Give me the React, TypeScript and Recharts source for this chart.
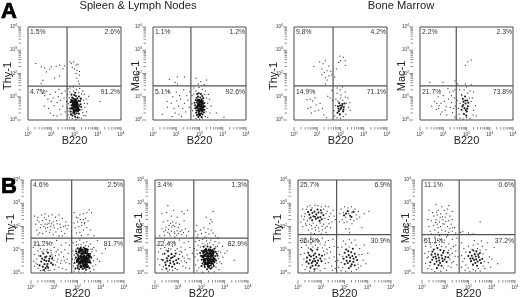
import React from "react";
import { ScatterChart, Scatter, XAxis, YAxis, ReferenceLine, ReferenceArea } from "recharts";

// flow cytometry dot plots, values are decades on the log axis (0 = 10^0, 4 = 10^4)
type Pts = number[][];

const a1Sparse: Pts = [[.33,2.43],[.57,2.29],[.71,2.24],[.93,2.19],[1,2.29],[1.21,2.31],[1.36,2.36],[1.57,2.33],[.79,2.07],[1.14,1.81],[1.36,1.89],[.64,1.71],[.57,1.57],[1.5,2.2],
  [1.86,2.43],[1.96,2.5],[2.07,2.36],[2.14,2.4],[1.9,2.26],[2,2.2],[2.1,2.14],[2.21,2.09],[2.06,2],[2.2,1.93],[2.1,1.8],[2.16,1.67],[2.2,1.56],[1.8,2.5],
  [.55,1.3],[.62,1.15],[.72,1.05],[.8,1.25],[.85,.9],[.95,1.1],[1,.8],[1.08,.95],[1.12,.62],[1.18,1.2],[1.25,.75],[1.3,1],[1.36,.45],[1.4,.85],[1.45,1.15],[1.5,.6],[1.55,.95],[1.6,.35],[.95,.3],[1.1,.2],[.88,.5],[1.25,.18],[1.42,.25],[.7,.6],[1.33,1.32],[1.6,1.25],
  [1.72,1.35],[1.82,1.38],[1.95,1.42],[2.08,1.3],[2.22,1.36],[2.35,1.25],[2.42,1.1],[2.5,.9],[2.55,.7],[2.45,.55],[2.52,.35],[2.4,.2],[2.3,1.12],[2.18,1.18],[1.7,1.1],[1.66,.8],[1.7,.5],[1.72,.22],[1.78,.1],[1.9,.06],[2.05,.04],[2.2,.1],[2.3,.08],[1.8,1.2],[1.95,1.25],[2.38,.85],[2.32,.45],[2.42,.72],[2.28,.95],[2.35,.32],[3.1,.8],[2.6,1.02],[1.78,.95],[1.75,.7],[1.76,.38],[2.48,.18]];
const a1Dense: Pts = [[1.83,.77],[1.94,.92],[2.06,1.03],[2.17,.83],[2.26,.68],[1.89,.53],[2.01,.66],[2.11,.58],[2.22,.43],[1.84,.36],[1.97,.41],[2.09,.29],[2.19,.27],[1.91,.19],[2.03,.14],[2.13,.11],[1.99,.81],[2.12,.76],[1.87,1.09],[2.03,1.17],[2.19,1.01],[2.29,.56],
  [1.87,.63],[1.93,.71],[2.04,.49],[2.14,.67],[1.96,.58],[2.07,.83],[1.86,.87],[2.16,.51],[2.24,.81],[1.95,.3],[2.02,.74],[2.08,.39],[1.81,.49],[2.15,.37],[2.06,.61],[1.9,.97],[1.99,1.07],[2.12,.93],[2.21,.61],[2.01,.24],[2.11,.46],[1.94,.47],[1.85,.24],[2.27,.91]];
const a1Core: Pts = [[1.95,.64],[2.03,.57],[2.1,.68],[2,.72],[1.92,.5],[2.05,.43],[2.13,.55],[1.98,.35],[2.07,.77],[2.02,.88],[1.9,.8],[2.16,.45]];

const a2Sparse: Pts = [[.7,1.75],[.95,1.62],[1.05,1.85],[1.35,1.85],[1.05,1.55],[1.85,1.8],[2.05,1.65],[2.3,1.72],[1.95,1.55],[2.2,1.52],
  [.4,.25],[.6,.8],[.62,.55],[.68,1.2],[.78,.72],[.85,1],[.9,.5],[.95,.3],[1,1.2],[1.02,.82],[1.1,.6],[1.14,1.05],[1.18,.9],[1.22,.15],[1.28,.5],[1.32,1.3],[1.35,.72],[1.4,.35],[1.45,1.05],[1.5,.85],[1.55,.55],[1.58,1.22],[.82,.15],[1.12,.25],
  [1.75,1.38],[1.85,1.25],[1.98,1.4],[2.12,1.32],[2.25,1.25],[2.38,1.1],[2.42,.9],[2.5,.6],[2.45,.3],[2.35,.12],[1.68,1.05],[1.68,.7],[1.7,.4],[1.74,.18],[1.85,.06],[2,.04],[2.12,.08],[2.25,.15],[2.3,.95],[2.35,.72],[1.76,1.12],[2.22,1.1],[1.8,.5],[3.05,.12],[2.72,.3],[2.32,.5],[2.28,.35]];
const a2Dense: Pts = [[1.84,.86],[1.94,1.01],[2.06,1.12],[2.16,.94],[2.21,.73],[1.81,.63],[1.94,.71],[2.04,.76],[2.13,.54],[1.87,.41],[2.01,.49],[2.11,.36],[2.21,.44],[1.89,.21],[2.02,.19],[2.09,.13],[1.97,1.15],[2.09,.89],
  [1.89,.76],[1.99,.59],[2.07,.66],[2.17,.63],[1.93,.49],[2.04,.41],[1.83,.51],[2.14,.81],[1.96,.31],[2.06,.28],[1.98,.87],[2.03,.97],[1.88,.96],[2.12,1.03],[2.19,.33],[1.85,.31],[2.08,.52],[1.92,.62],[2.01,.68],[2.23,.58],[2.13,.24],[1.79,.74],[1.95,.13],[2.02,.82],[1.9,1.12]];
const a2Core: Pts = [[1.96,.66],[2.05,.6],[2.12,.72],[2.01,.78],[1.9,.55],[2.06,.45],[2.14,.45],[1.97,.4],[2.08,.82],[1.94,.85],[1.99,.25],[2.15,.58]];

const a3Sparse: Pts = [[.85,2.3],[1.1,2.5],[1.25,2.42],[1.35,2.55],[1.5,2.32],[1.2,2.2],[1.3,2.05],[1.42,2.12],[1.5,1.9],[1.35,1.82],[1.58,2.1],[1.42,1.72],[1.62,1.95],[1.35,1.55],[1.2,1.95],
  [1.98,2.75],[2.12,2.7],[2,2.55],[1.92,2.48],[2.2,2.55],[2.2,2.35],[1.82,2.2],[1.75,1.85],
  [.55,.88],[.7,.9],[.8,.82],[.9,.95],[.72,.55],[.6,.5],[.75,.3],[.95,.65],[1.05,.42],[1.12,.72],[1.22,.5],[1.28,.22],[1.4,.1],[.9,.38],[1.45,1.02],[1.55,.95],[1.62,1.28],[1.65,.85],
  [1.85,1.38],[1.98,1.3],[2.08,1.42],[2.2,1.2],[1.85,1.15],[2.02,1.08],[2.2,.98],[2.32,.95],[2.4,.75],[2.35,.55],[2.42,.42],[2.25,.72],[1.8,.9],[1.78,.62],[1.72,.4],[1.75,.18],[1.85,.1],[2,.08],[2.12,.15],[2.22,.25],[1.88,.82],[2.1,.85],[2,.95]];
const a3Dense: Pts = [[1.94,.73],[2.06,.61],[2.14,.56],[1.91,.49],[1.99,.46],[2.11,.37],[1.87,.31],[1.97,.24],[2.17,.71],[2.03,.52],[1.93,.38],[2.08,.69],[1.98,.62],[2.13,.45],[1.89,.59]];

const a4Sparse: Pts = [[.42,1.62],[.98,1.62],[1.5,1.68],[2.05,2.5],[2.2,2.58],[1.95,2.35],[1.62,1.55],[1.95,1.55],[2.2,1.52],
  [.5,.6],[.62,.8],[.7,.45],[.78,1],[.82,.62],[.9,.72],[.95,.35],[1,1.05],[1.05,.8],[1.12,.58],[1.15,.22],[1.22,.9],[1.28,1.2],[1.3,.55],[1.35,.75],[1.4,.32],[1.42,1.25],[1.48,.95],[1.5,.12],[1.52,.6],[1.2,1.35],[1.35,1.05],[.8,.5],[.88,.25],[1.08,.42],[1.5,1.3],[1.45,.5],[.72,.72],
  [1.7,1.3],[1.78,1.1],[1.9,1.3],[2,1.42],[2.15,1.25],[2.3,1.2],[1.6,.85],[1.65,.5],[1.68,.25],[1.72,.08],[1.85,.05],[2,.1],[2.15,.06],[2.3,.42],[2.38,.62],[2.42,.18],[2.2,.8],[2.25,.95],[1.8,1.05],[2.05,1.15],[2.12,.95],[1.72,.72],[2.28,.22]];
const a4Dense: Pts = [[1.84,.91],[1.94,1.01],[2.03,.84],[1.86,.64],[1.96,.71],[2.06,.59],[1.79,.44],[1.91,.51],[2.01,.37],[1.89,.26],[1.99,.19],[1.87,.79],[1.97,.43],[2.08,.74],[1.82,.58],[1.95,.84],[2.03,.49]];

const b1Sparse: Pts = [[.15,2.45],[.3,2.4],[.45,2.5],[.6,2.55],[.75,2.45],[.9,2.5],[1.05,2.4],[1.2,2.5],[1.35,2.35],[1.5,2.2],[.2,2.1],[.35,2.2],[.5,2.25],[.65,2.3],[.8,2.25],[.95,2.2],[1.1,2.25],[1.25,2.1],[1.4,2],[1.55,1.9],[.25,1.85],[.4,1.95],[.55,2],[.7,2.1],[.85,2],[1,1.95],[1.15,1.9],[1.3,1.8],[1.45,1.7],[1.6,2.05],[.3,1.65],[.5,1.7],[.65,1.8],[.8,1.75],[.95,1.65],[1.2,1.6],[1.35,1.6],[.6,2.1],[.72,1.95],[.88,2.12],
  [1.85,2.6],[1.95,2.4],[2.1,2.5],[2.25,2.55],[2.4,2.6],[2.5,2.72],[2.6,2.6],[1.85,2.15],[2,2.2],[2.12,2.3],[2.25,2.3],[2.35,2.35],[2.45,2.25],[1.9,1.95],[2.05,2],[2.18,2.05],[2.3,2.12],[2.4,1.95],[2.55,1.85],[1.95,1.72],[2.1,1.75],[2.25,1.85],[2.45,1.65],[2.7,1.6],[2.32,2.18],
  [.1,1.1],[.2,1.3],[.35,1.2],[.5,1.35],[.7,1.25],[.9,1.3],[1.1,1.4],[1.3,1.2],[1.5,1.3],[1.65,1.2],[.15,.8],[.3,.95],[.4,1.05],[.55,1],[.7,1.02],[.85,.98],[1,1.1],[1.15,1],[1.3,.9],[1.45,1],[1.6,.85],[.12,.5],[.25,.6],[.15,.3],[.3,.2],[1.05,.75],[1.15,.6],[1.2,.78],[1.3,.55],[1.4,.7],[1.5,.45],[1.55,.6],[1.65,.4],[1.05,.35],[1.2,.25],[1.35,.2],[1.5,.15],[.9,.78],[.98,.55],[1,.15],[.82,.12],[.6,.08],[.4,.1],
  [1.8,1.3],[1.95,1.35],[2.1,1.42],[2.25,1.3],[2.4,1.35],[2.55,1.25],[2.7,1.1],[2.8,.95],[3.05,.85],[2.85,1.4],[1.8,.95],[1.78,.6],[1.82,.3],[1.85,.08],[2.05,.05],[2.3,.04],[2.55,.06],[2.7,.15],[2.78,.35],[2.85,.6],[2.95,.5],[2.72,.75],[2.65,1.02],[1.95,1.2],[2.15,1.22],[2.35,1.18],[3.2,1.05]];
const b1Cloud: Pts = [[.27,2.27],[.43,2.08],[.58,2.38],[.77,2.14],[.98,2.06],[1.13,2.12],[.37,1.73],[.62,1.93],[.83,1.86],[1.07,1.77],[1.27,1.97],[1.48,2.03],[.47,.92],[.33,.74],[.22,.43],[.68,.94],[.87,.87],[.93,.68],[1.08,.92],[1.12,.48],[.27,.37],[.48,.12],[.74,.11],[1.27,.42],[1.43,.53],[2.62,.92],[2.68,.53],[2.66,.3],[1.86,.77],[1.88,.56],[1.93,1.03],[2.03,1.22],[2.47,1.14],[2.58,1.03],[2.18,2.18],[2.03,2.37],[2.17,1.62]];
const b1Dense: Pts = [[.41,.73],[.53,.84],[.66,.71],[.79,.61],[.44,.49],[.57,.56],[.71,.39],[.86,.43],[.51,.27],[.63,.21],[.74,.23],[.73,.87],[.37,.33],[.94,.36],[.58,.38],[.66,.52],[.48,.62],[.61,.67],[.77,.51],[.69,.29],[.83,.72],[.56,.14],[.91,.62],
  [2.01,1.06],[2.14,1.09],[2.31,1.04],[2.44,1.01],[1.96,.84],[2.11,.91],[2.24,.87],[2.41,.86],[2.54,.83],[1.93,.66],[2.04,.71],[2.21,.69],[2.34,.67],[2.49,.64],[1.97,.47],[2.13,.53],[2.27,.51],[2.43,.47],[2.56,.44],[2.01,.31],[2.14,.33],[2.29,.31],[2.46,.29],[2.07,.16],[2.23,.17],[2.37,.14],[1.91,.19],[2.51,.21],[2.59,.66],[1.87,.43],
  [2.08,.98],[2.19,.97],[2.36,.94],[2.02,.77],[2.17,.81],[2.29,.76],[2.46,.74],[2.1,.62],[2.26,.61],[2.39,.58],[2.05,.39],[2.19,.44],[2.35,.41],[2.16,.24],[2.31,.22],[1.99,.57],[2.24,.37],[2.41,.38],[2.28,.93],[2.12,.73],[1.94,.93],[2.52,.55],[2.22,.55],[2.33,.48],[2.07,.48],[2.18,.62],[2.38,.73],[2.01,.22],[2.43,.95],[2.27,1.1]];
const b1Core: Pts = [[2.07,.9],[2.2,.83],[2.33,.87],[2.45,.8],[2.05,.62],[2.16,.7],[2.3,.66],[2.43,.6],[2.1,.44],[2.24,.46],[2.37,.5],[2.5,.48],[2.15,.28],[2.28,.3],[2.4,.27],[2.2,.98],[2.36,1.02],[2.12,1.02],[2.52,.72],[2,.52],[2.25,.7],[2.38,.66],[2.18,.54],[2.31,.58],[2.34,.36]];

const b2Sparse: Pts = [[.55,2.9],[.8,2.7],[1.15,2.65],[.3,2.55],[.5,2.6],[.7,2.45],[.95,2.4],[1.25,2.55],[1.4,2.7],[.35,2.2],[.55,2.25],[.75,2.2],[.9,2.15],[1.05,2.1],[1.25,2.25],[.6,2.05],[.72,1.98],[.85,2],[1,1.95],[1.15,1.85],[1.3,1.9],[.3,1.9],[.45,1.85],[.55,1.75],[.7,1.8],[.85,1.7],[1,1.7],[1.15,1.65],[1.35,1.6],[.4,1.62],[.65,1.6],[.85,1.55],[1.45,1.78],[.2,1.6],[.95,1.82],[.78,2.05],
  [2.5,2.65],[2.2,2.4],[2.35,2.12],[2.45,2.2],[1.8,2.05],[1.95,1.85],[2.1,1.95],[2.28,1.9],[2.42,1.85],[1.85,1.65],[2,1.7],[2.18,1.75],[2.32,1.68],[2.5,1.72],[2.6,1.6],[1.75,1.8],[2.4,2.3],[1.82,1.55],[2.15,1.55],[2.7,1.52],
  [.1,1.2],[.22,1.35],[.4,1.42],[.6,1.3],[.82,1.35],[1.05,1.42],[1.25,1.3],[1.45,1.35],[.15,.9],[.25,1.05],[.42,1.1],[.58,1.05],[.75,1.15],[.95,1.05],[1.12,1.12],[1.3,1],[1.5,1.1],[.12,.6],[.2,.35],[.3,.15],[1.05,.8],[1.15,.9],[1.25,.65],[1.38,.78],[1.5,.6],[1.6,.85],[1.05,.4],[1.2,.3],[1.35,.45],[1.48,.2],[.95,.15],[.75,.1],[.55,.08],
  [1.75,1.35],[1.9,1.4],[2.05,1.45],[2.22,1.38],[2.4,1.42],[2.58,1.35],[2.75,1.3],[2.9,1.15],[3.1,.95],[3.4,.55],[1.7,1.05],[1.72,.7],[1.75,.35],[1.8,.1],[2.05,.04],[2.3,.06],[2.55,.05],[2.75,.15],[2.85,.4],[2.92,.68],[3,.85],[2.82,.9],[2.68,1.15],[1.85,1.2],[2.05,1.28],[2.25,1.25],[2.5,1.22]];
const b2Cloud: Pts = [[.62,1.69],[.47,1.97],[.67,2.14],[.83,1.77],[.93,1.63],[1.08,1.79],[1.22,1.74],[.38,1.78],[.58,1.88],[.48,.98],[.32,.82],[.27,.58],[.36,.27],[.68,1.03],[.87,.97],[1.08,.93],[1.18,.72],[1.13,.52],[.62,.14],[.87,.2],[1.28,.52],[1.42,.62],[1.32,.22],[2.72,.62],[2.78,.48],[2.72,.94],[1.82,.82],[1.84,.55],[1.88,.22],[2.62,.25],[2.66,.42],[2.15,1.2],[2.35,1.3],[2.6,1.12],[1.95,1.12],[1.8,.98]];
const b2Dense: Pts = [[.41,.83],[.56,.94],[.71,.81],[.84,.73],[1.01,.61],[.34,.56],[.51,.63],[.64,.54],[.79,.49],[.96,.43],[.46,.34],[.61,.31],[.74,.27],[.89,.84],[.49,.19],[.58,.73],[.69,.64],[.44,.45],[.83,.38],[.66,.42],[.76,.68],[.53,.52],[.91,.55],
  [2.09,1.13],[2.26,1.14],[2.39,1.11],[2.56,1.04],[2.01,.96],[2.14,.99],[2.31,1.01],[2.44,.94],[2.61,.91],[1.97,.74],[2.13,.79],[2.27,.83],[2.41,.77],[2.59,.73],[2.01,.57],[2.16,.61],[2.29,.63],[2.46,.59],[2.63,.54],[2.04,.41],[2.21,.43],[2.34,.43],[2.51,.39],[2.14,.26],[2.31,.24],[2.44,.23],[2.69,.74],
  [2.07,.86],[2.21,.91],[2.36,.89],[2.52,.85],[2.07,.66],[2.22,.71],[2.36,.71],[2.51,.67],[2.1,.49],[2.27,.53],[2.41,.5],[2.56,.47],[2.27,.34],[2.4,.32],[2.19,1.04],[2.34,.8],[2.47,1],[2.18,.82],[2.12,.34],[1.94,.86],[2.24,.16],[2.38,.18],[2,.3],[2.32,.96],[2.16,.54],[2.53,.3],[2.66,.83]];
const b2Core: Pts = [[2.2,.97],[2.36,.98],[2.5,.92],[2.14,.75],[2.28,.72],[2.42,.72],[2.55,.6],[2.12,.58],[2.25,.6],[2.38,.6],[2.5,.52],[2.2,.4],[2.32,.5],[2.43,.42],[2.3,.3],[2.4,.85],[2.25,.85],[2.1,.92],[2.16,.45],[2.47,.78],[2.35,.55],[2.05,.72],[2.28,.42]];

const b3Sparse: Pts = [[.2,2.75],[.4,2.85],[.6,2.8],[.85,2.9],[1.1,2.75],[1.3,2.85],[.15,2.45],[.3,2.55],[.45,2.65],[1.25,2.65],[1.4,2.55],[1.55,2.45],[.12,2.2],[.25,2.3],[.4,2.25],[1.15,2.35],[1.3,2.3],[1.45,2.2],[.2,2],[.35,2.05],[.5,2.1],[.65,2.15],[.8,2.05],[.95,2.15],[1.1,2.1],[1.25,2],[1.4,1.95],[.45,1.85],[.6,1.9],[.75,1.85],[.9,1.8],[1.05,1.85],[1.2,1.75],[.7,1.7],[1,1.68],[.55,1.72],[1.5,2.7],[1.6,2.3],
  [1.85,2.75],[2,2.85],[2.15,2.8],[2.3,2.85],[2.45,2.75],[2.6,2.65],[1.8,2.55],[1.95,2.6],[2.05,2.4],[2.18,2.55],[2.32,2.6],[2.5,2.5],[2.65,2.4],[1.9,2.3],[2.1,2.2],[2.25,2.3],[2.4,2.25],[2.85,2.55],[2.05,1.9],[2.22,1.75],[2.2,1.9],[2.75,1.95],[3.05,2.65],[1.78,2.2],
  [.1,1.4],[.3,1.5],[.55,1.55],[.8,1.45],[1.05,1.5],[1.3,1.4],[1.5,1.45],[.15,1.1],[.35,1.2],[.55,1.25],[.75,1.2],[.95,1.25],[1.15,1.2],[1.35,1.1],[1.55,1.15],[.12,.8],[.25,.6],[.18,.35],[.3,.15],[1.1,.95],[1.25,.85],[1.4,.9],[1.55,.7],[1.15,.6],[1.3,.45],[1.45,.3],[1.6,.5],[1.15,.2],[.95,.1],[.7,.08],[.5,.06],[1.6,.2],
  [1.72,1.1],[1.78,.8],[1.72,.55],[1.75,.25],[1.85,.1],[2.05,.06],[2.3,.08],[2.5,.15],[2.7,.3],[2.8,.55],[2.75,.8],[2.65,1.05],[2.5,1.2],[2.3,1.3],[2.05,1.25],[1.88,1.12],[1.95,1.38],[2.2,1.45],[2.45,1.42],[3,.85],[2.92,.4],[2.85,1.2]];
const b3Cloud: Pts = [[.28,2.42],[.37,2.74],[.52,2.9],[.73,2.92],[1,2.85],[1.18,2.88],[1.2,2.55],[1.34,2.44],[.32,2.12],[.48,2.33],[.58,2.04],[.73,1.96],[.88,1.94],[1.03,2.02],[1.17,1.94],[1.33,2.12],[.28,1.32],[.45,1.38],[.67,1.37],[.92,1.38],[1.18,1.33],[.45,1.08],[.64,1.12],[.85,1.1],[1.05,1.08],[1.25,1.02],[.27,.85],[.33,.46],[.37,.27],[1.14,.78],[1.18,.42],[1.34,.65],[1.48,.12],[.82,.18],[1.92,.72],[1.86,.45],[1.92,.24],[2.58,.38],[2.62,.78],[2.6,.22],[2.2,1.12],[1.98,2.16],[2.32,2.12],[2.53,2.32]];
const b3Dense: Pts = [[.56,2.71],[.71,2.64],[.84,2.73],[1.01,2.59],[.49,2.51],[.66,2.44],[.79,2.52],[.96,2.41],[1.09,2.49],[.61,2.27],[.77,2.33],[.93,2.24],[.62,2.58],[.88,2.6],[.73,2.42],[.54,2.38],[.86,2.38],[1.02,2.31],[.43,2.62],[.98,2.7],
  [.44,.87],[.61,.96],[.74,.84],[.91,.79],[.39,.66],[.56,.71],[.69,.61],[.86,.54],[1.01,.51],[.46,.41],[.59,.43],[.76,.34],[.89,.31],[.54,.23],[.71,.16],[1.03,.74],[.51,.56],[.64,.5],[.79,.69],[.67,.76],[.82,.43],[.49,.76],[.62,.31],[.96,.62],[.38,.49],[.74,.51],[.55,1.02],[.83,1.01],
  [2.01,.87],[2.16,.94],[2.29,.89],[2.44,.83],[1.96,.61],[2.09,.69],[2.24,.66],[2.39,.61],[2.54,.56],[2.01,.39],[2.14,.43],[2.31,.37],[2.44,.33],[2.19,.21],[2.36,1.04],[2.09,.53],[2.23,.51],[2.34,.73],[2.18,.77],[2.49,.69],[2.07,1.01],[2.27,.29],[2.38,.48],
  [2.07,2.56],[2.24,2.46],[2.39,2.63],[2.14,2.66],[2.3,2.41],[1.98,2.48]];

const b4Sparse: Pts = [[.6,2.95],[.85,2.85],[1.15,2.9],[.3,2.7],[.45,2.6],[.7,2.7],[.95,2.7],[1.1,2.75],[1.3,2.65],[.5,2.45],[.65,2.5],[.8,2.55],[1.05,2.55],[1.2,2.45],[1,2.4],[.25,2.3],[.4,2.25],[.6,2.3],[.75,2.2],[.9,2.3],[1.15,2.25],[1.3,2.3],[.3,2],[.5,2.05],[.65,2.1],[.8,2],[.95,2.1],[1.1,2],[1.25,2.1],[1.4,1.95],[.35,1.8],[.55,1.85],[.7,1.75],[.85,1.85],[1,1.8],[1.15,1.75],[1.3,1.8],[.4,1.68],[.75,1.62],[1.1,1.62],[1.45,1.72],[1.02,2.22],[.88,2.42],
  [1.75,1.78],[2,1.72],[2.5,2.2],[2.2,1.68],[1.65,1.75],
  [.1,1.4],[.3,1.5],[.55,1.55],[.8,1.45],[1.05,1.55],[1.3,1.45],[1.5,1.5],[.15,1.15],[.35,1.25],[.55,1.3],[.75,1.22],[.95,1.3],[1.15,1.25],[1.35,1.15],[.12,.85],[.22,.65],[.15,.42],[.25,.2],[1.15,.98],[1.3,.85],[1.45,.95],[1.55,.7],[1.2,.6],[1.35,.5],[1.5,.35],[1.25,.25],[1.05,.12],[.8,.08],[.55,.06],[1.45,1.2],
  [1.7,.75],[1.75,.5],[1.7,.25],[1.85,.12],[2.05,.06],[2.3,.1],[2.5,.08],[2.7,.2],[2.85,.45],[2.9,.7],[3,.6],[2.75,1],[2.6,1.15],[2.4,1.25],[2.2,1.2],[2,1.15],[1.8,1.05],[1.7,1.3],[2.25,1.4],[2.55,1.38],[2.8,1.3],[3.1,1.1],[3.25,.4],[2.95,.25]];
const b4Cloud: Pts = [[.38,1.12],[.28,.92],[.27,.7],[.33,.32],[.62,1.18],[.84,1.14],[1.03,1.12],[1.24,1.05],[.67,1.4],[.97,1.42],[1.19,.78],[1.28,.44],[1.42,.72],[1.12,.3],[.92,.22],[.42,.15],[1.88,.9],[1.82,.62],[1.88,.34],[1.98,.22],[2.62,.82],[2.68,.5],[2.63,.3],[2.15,1.02],[2.38,1.05],[2.5,.98],[2.42,.2],[2.2,.16],[.62,2.62],[.78,2.4],[.9,2.12],[.58,2.18],[.7,1.95],[1.2,1.92],[1,1.65],[1.32,1.95]];
const b4Dense: Pts = [[.51,1.01],[.66,1.07],[.79,.99],[.94,.96],[1.11,.87],[.41,.79],[.56,.83],[.69,.79],[.84,.76],[1.01,.69],[.44,.57],[.61,.61],[.74,.54],[.89,.51],[1.06,.47],[.54,.39],[.71,.34],[.84,.31],[.64,.21],[.58,.71],[.72,.66],[.87,.63],[.49,.68],[.97,.58],[.63,.49],[.78,.43],[.91,.87],[.36,.46],[1.13,.68],[.45,.92],
  [2.06,.89],[2.21,.97],[2.34,.93],[2.49,.86],[1.99,.73],[2.14,.74],[2.31,.71],[2.44,.69],[2.59,.61],[2.11,.51],[2.24,.56],[2.39,.49],[2.54,.43],[2.19,.36],[2.37,.31],[2.27,.81],[2.42,.79],[2.18,.63],[2.33,.59],[2.49,.56],[2.29,.43],[2.08,.62]];

const a1Pct = ["1.5%", "2.6%", "4.7%", "91.2%"];
const a2Pct = ["1.1%", "1.2%", "5.1%", "92.6%"];
const a3Pct = ["9.8%", "4.2%", "14.9%", "71.1%"];
const a4Pct = ["2.2%", "2.3%", "21.7%", "73.8%"];
const b1Pct = ["4.6%", "2.5%", "11.2%", "81.7%"];
const b2Pct = ["3.4%", "1.3%", "12.4%", "82.9%"];
const b3Pct = ["25.7%", "6.9%", "36.5%", "30.9%"];
const b4Pct = ["11.1%", "0.6%", "51.1%", "37.2%"];

const decades = [0, 1, 2, 3, 4];
const minorSteps = [2, 3, 4, 5, 6, 7, 8, 9];
const logTicks = [...decades, ...decades.slice(0, 4).flatMap((d) => minorSteps.map((m) => d + Math.log10(m)))];

const SIZE = 93;
const FONT = "'Liberation Sans', Arial, sans-serif";
const INK = "#4a4a4a";

const panels = [
  { name: "a1", px: 28, py: 27, gx: 1.68, gy: 1.46, label: "Thy-1", lx: 21, sparse: a1Sparse, cloud: [], dense: a1Dense, core: a1Core, pct: a1Pct },
  { name: "a2", px: 153, py: 27, gx: 1.63, gy: 1.47, label: "Mac-1", lx: 18, sparse: a2Sparse, cloud: [], dense: a2Dense, core: a2Core, pct: a2Pct },
  { name: "a3", px: 294, py: 27, gx: 1.68, gy: 1.47, label: "Thy-1", lx: 21, sparse: a3Sparse, cloud: [], dense: a3Dense, core: [], pct: a3Pct },
  { name: "a4", px: 420, py: 27, gx: 1.56, gy: 1.47, label: "Mac-1", lx: 19, sparse: a4Sparse, cloud: [], dense: a4Dense, core: [], pct: a4Pct },
  { name: "b1", px: 31, py: 180, gx: 1.75, gy: 1.5, label: "Thy-1", lx: 21, sparse: b1Sparse, cloud: b1Cloud, dense: b1Dense, core: b1Core, pct: b1Pct },
  { name: "b2", px: 155, py: 180, gx: 1.67, gy: 1.5, label: "Mac-1", lx: 17, sparse: b2Sparse, cloud: b2Cloud, dense: b2Dense, core: b2Core, pct: b2Pct },
  { name: "b3", px: 298, py: 180, gx: 1.66, gy: 1.65, label: "Thy-1", lx: 21, sparse: b3Sparse, cloud: b3Cloud, dense: b3Dense, core: [], pct: b3Pct },
  { name: "b4", px: 422, py: 180, gx: 1.6, gy: 1.65, label: "Mac-1", lx: 17, sparse: b4Sparse, cloud: b4Cloud, dense: b4Dense, core: [], pct: b4Pct },
];

const toRows = (pts: Pts) => pts.map(([x, y]) => ({ x, y }));

const Power = ({ x, y, exp, anchor }: any) => (
  <text x={x} y={y} fontSize={4.5} fontFamily={FONT} fill="#333" textAnchor={anchor}>
    10
    <tspan dy={-2} fontSize={3.5}>{exp}</tspan>
  </text>
);

const XTick = ({ x, y, payload }: any) => {
  const major = Number.isInteger(payload.value);
  return (
    <g>
      <line x1={x} x2={x} y1={y - 1} y2={y + (major ? 3 : 1.5)} stroke={INK} strokeWidth={0.6} />
      {major && <Power x={x} y={y + 8} exp={payload.value} anchor="middle" />}
    </g>
  );
};

const YTick = ({ x, y, payload }: any) => {
  const major = Number.isInteger(payload.value);
  return (
    <g>
      <line x1={x - (major ? 3 : 1.5)} x2={x + 1} y1={y} y2={y} stroke={INK} strokeWidth={0.6} />
      {major && <Power x={x - 3} y={y + 1} exp={payload.value} anchor="end" />}
    </g>
  );
};

const smallDot = (p: any) => <rect x={p.cx - 0.5} y={p.cy - 0.5} width={1.1} height={1.1} fill="#333" />;
const bigDot = (p: any) => <circle cx={p.cx} cy={p.cy} r={1.05} fill="#1c1c1c" />;
const coreDot = (p: any) => <circle cx={p.cx} cy={p.cy} r={1.6} fill="#111" />;

const Panel = ({ p }: any) => (
  <div style={{ position: "absolute", left: p.px - 30, top: p.py - 6 }}>
    <ScatterChart width={SIZE + 36} height={SIZE + 40} margin={{ top: 6, right: 6, bottom: 0, left: 0 }}>
      <XAxis
        type="number"
        dataKey="x"
        domain={[0, 4]}
        ticks={logTicks}
        interval={0}
        height={34}
        axisLine={false}
        tickLine={false}
        tick={<XTick />}
        label={{ value: "B220", position: "insideBottom", offset: 10, fontSize: 11, fontFamily: FONT, fill: "#222" }}
      />
      <YAxis
        type="number"
        dataKey="y"
        domain={[0, 4]}
        ticks={logTicks}
        interval={0}
        width={30}
        axisLine={false}
        tickLine={false}
        tick={<YTick />}
      />
      <Scatter data={toRows(p.sparse)} shape={smallDot} isAnimationActive={false} />
      <Scatter data={toRows(p.cloud)} shape={smallDot} isAnimationActive={false} />
      <Scatter data={toRows(p.dense)} shape={bigDot} isAnimationActive={false} />
      <Scatter data={toRows(p.core)} shape={coreDot} isAnimationActive={false} />
      <ReferenceArea x1={0} x2={4} y1={0} y2={4} fill="none" stroke={INK} strokeWidth={1} ifOverflow="visible" />
      <ReferenceLine x={p.gx} stroke="#555" strokeWidth={1.2} />
      <ReferenceLine y={p.gy} stroke="#555" strokeWidth={1.2} />
    </ScatterChart>
  </div>
);

// quadrant percentages, axis titles and panel letters sit on one svg on top of the charts
const Overlay = () => (
  <svg width={520} height={297} style={{ position: "absolute", left: 0, top: 0, pointerEvents: "none" }} fontFamily={FONT}>
    <text x={1} y={18} fontSize={22} fontWeight="bold" fill="#000" stroke="#000" strokeWidth={0.7}>A</text>
    <text x={1} y={193} fontSize={22} fontWeight="bold" fill="#000" stroke="#000" strokeWidth={0.7}>B</text>
    <text x={138} y={9} fontSize={11.2} textAnchor="middle" fill="#222">Spleen &amp; Lymph Nodes</text>
    <text x={401} y={9} fontSize={11.2} textAnchor="middle" fill="#222">Bone Marrow</text>
    {panels.map((p) => {
      const gateY = p.py + SIZE - (p.gy / 4) * SIZE;
      const cy = p.py < 100 ? 76 : 228;
      return (
        <g key={p.name} fontSize={6.8} fill="#333">
          <text x={p.px + 2} y={p.py + 7}>{p.pct[0]}</text>
          <text x={p.px + SIZE - 1} y={p.py + 7} textAnchor="end">{p.pct[1]}</text>
          <text x={p.px + 2} y={gateY + 8}>{p.pct[2]}</text>
          <text x={p.px + SIZE - 1} y={gateY + 8} textAnchor="end">{p.pct[3]}</text>
          <text
            transform={`translate(${p.px - p.lx + 4} ${cy}) rotate(-90)`}
            fontSize={11}
            textAnchor="middle"
            fill="#222"
          >
            {p.label}
          </text>
        </g>
      );
    })}
  </svg>
);

export default function App() {
  return (
    <div style={{ position: "absolute", left: 0, top: 0, width: 520, height: 297, background: "#fff", overflow: "hidden", filter: "blur(0.3px)" }}>
      {panels.map((p) => (
        <Panel key={p.name} p={p} />
      ))}
      <Overlay />
    </div>
  );
}
